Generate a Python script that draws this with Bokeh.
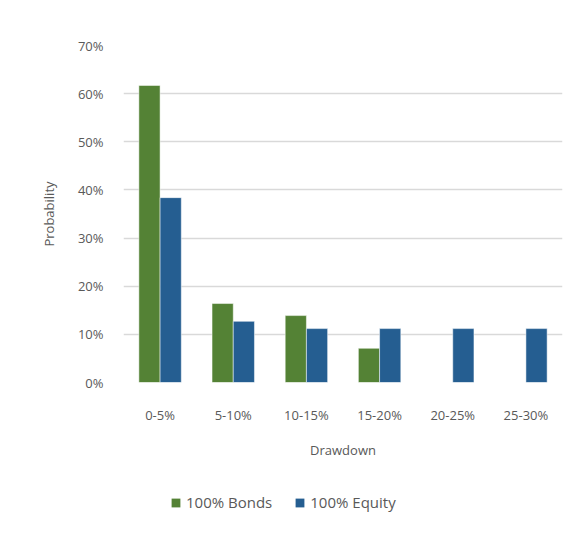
from bokeh.plotting import figure
from bokeh.layouts import column
from bokeh.models import ColumnDataSource, FactorRange, Range1d, Legend, LegendItem, NumeralTickFormatter, FixedTicker
from bokeh.transform import dodge
from bokeh.embed import file_html
from bokeh.resources import INLINE

categories = ["0-5%", "5-10%", "10-15%", "15-20%", "20-25%", "25-30%"]
bonds = [0.617, 0.164, 0.139, 0.071, 0.0, 0.0]
equity = [0.384, 0.127, 0.112, 0.112, 0.112, 0.112]
y_ticks = [0, 0.1, 0.2, 0.3, 0.4, 0.5, 0.6, 0.7]

src = ColumnDataSource(dict(cat=categories, bonds=bonds, equity=equity))

FONT = "Open Sans"
GRAY = "#595959"
GREEN = "#548235"
BLUE = "#255e91"

p = figure(width=580, height=470, x_range=FactorRange(*categories, range_padding=0),
           y_range=Range1d(0, 0.7), output_backend="svg", toolbar_location=None,
           min_border_left=123, min_border_right=18, min_border_top=45, min_border_bottom=88)

rb = p.vbar(x=dodge("cat", -0.145, range=p.x_range), top="bonds", width=0.29, source=src,
            fill_color=GREEN, line_color="#ffffff", line_width=0.5)
re_ = p.vbar(x=dodge("cat", 0.145, range=p.x_range), top="equity", width=0.29, source=src,
             fill_color=BLUE, line_color="#ffffff", line_width=0.5)

p.outline_line_color = None
p.xgrid.grid_line_color = None
p.ygrid.grid_line_color = "#d9d9d9"
p.ygrid.grid_line_width = 1.5
p.yaxis.ticker = FixedTicker(ticks=y_ticks)
p.yaxis.formatter = NumeralTickFormatter(format="0%")

for ax in (p.xaxis[0], p.yaxis[0]):
    ax.axis_line_color = None
    ax.major_tick_line_color = None
    ax.minor_tick_line_color = None
    ax.major_label_text_font = FONT
    ax.major_label_text_font_size = "13px"
    ax.major_label_text_color = GRAY
    ax.axis_label_text_font = FONT
    ax.axis_label_text_font_size = "13px"
    ax.axis_label_text_color = GRAY
    ax.axis_label_text_font_style = "normal"

p.xaxis.axis_label = "Drawdown"
p.yaxis.axis_label = "Probability"
p.xaxis.major_label_standoff = 17
p.xaxis.axis_label_standoff = 14
p.yaxis.major_label_standoff = 14
p.yaxis.axis_label_standoff = 17

# legend strip below the chart (its bars lie outside its own view, only the key shows)
lf = figure(width=580, height=57, output_backend="svg", toolbar_location=None,
            x_range=FactorRange(*categories), y_range=Range1d(10, 11),
            min_border_left=123, min_border_right=18, min_border_top=0, min_border_bottom=0)
lf.axis.visible = False
lf.grid.visible = False
lf.outline_line_color = None
lb = lf.vbar(x="cat", top="bonds", width=0.29, source=src, fill_color=GREEN, line_color=None)
le = lf.vbar(x="cat", top="equity", width=0.29, source=src, fill_color=BLUE, line_color=None)
legend = Legend(items=[LegendItem(label="100% Bonds", renderers=[lb]),
                       LegendItem(label="100% Equity", renderers=[le])],
                orientation="horizontal", location=(47, 15),
                label_text_font=FONT, label_text_font_size="15px", label_text_color=GRAY,
                glyph_width=11, glyph_height=11, spacing=22, label_standoff=5,
                border_line_color=None, background_fill_alpha=0, margin=0, padding=0)
lf.add_layout(legend, "center")

open("out.html", "w").write(file_html(column(p, lf, spacing=0), INLINE))
